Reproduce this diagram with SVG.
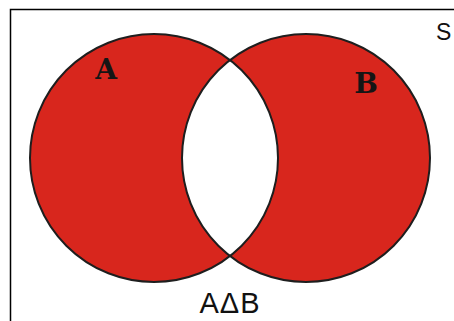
<svg xmlns="http://www.w3.org/2000/svg" width="454" height="321" viewBox="0 0 454 321">
  <style>
    .set { fill: #d8261d; }
    .edge { fill: none; stroke: #1e1e1e; stroke-width: 2; }
    .setlabel { font-family: "DejaVu Serif", "Liberation Serif", serif; font-weight: bold; font-size: 28px; fill: #151515; }
    .caption { font-family: "Liberation Sans", Arial, sans-serif; fill: #111; }
  </style>
  <rect x="0" y="0" width="454" height="321" fill="#ffffff"/>
  <g id="universe">
    <rect x="10.5" y="9.5" width="460" height="330" fill="none" stroke="#000" stroke-width="1.5"/>
    <text class="caption" x="436" y="40" font-size="23">S</text>
  </g>
  <g id="setA">
    <circle class="set" cx="154" cy="158" r="124"/>
  </g>
  <g id="setB">
    <circle class="set" cx="306" cy="158" r="124"/>
  </g>
  <g id="intersection">
    <path d="M230,60 A124,124 0 0 0 230,256 A124,124 0 0 0 230,60 Z" fill="#ffffff"/>
  </g>
  <g id="outlines">
    <circle class="edge" cx="154" cy="158" r="124"/>
    <circle class="edge" cx="306" cy="158" r="124"/>
  </g>
  <g id="labels">
    <text class="setlabel" x="106" y="79" text-anchor="middle">A</text>
    <text class="setlabel" x="366" y="93" text-anchor="middle">B</text>
    <text class="caption" x="230" y="313" font-size="29" text-anchor="middle" letter-spacing="1">AΔB</text>
  </g>
</svg>
